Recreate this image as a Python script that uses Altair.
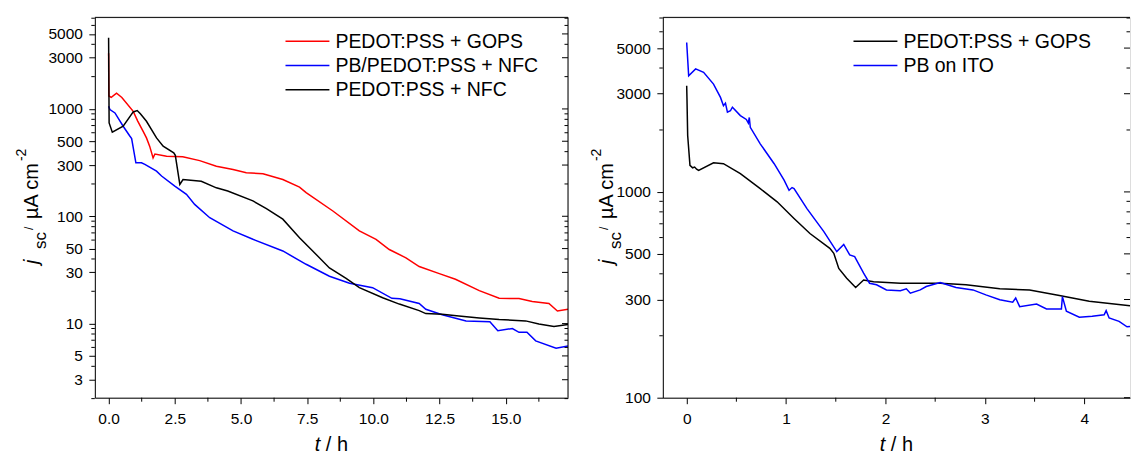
import altair as alt
import pandas as pd

FONT = "Liberation Sans"

# ---------------- left panel data ----------------
L_SERIES = ["PEDOT:PSS + GOPS", "PB/PEDOT:PSS + NFC", "PEDOT:PSS + NFC"]
L_COLORS = ["#ff0000", "#0000ff", "#000000"]

L_RED_T = [0.0, 0.01, 0.1, 0.3, 0.5, 0.93, 1.1, 1.3, 1.43, 1.55, 1.68, 1.75, 2.19, 2.8, 3.44, 4.07, 4.7, 5.2,
           5.83, 6.58, 7.21, 7.46, 8.47, 9.47, 10.1, 10.6, 11.23, 11.73, 12.49, 13.1, 14.0, 14.75, 15.5, 16.0,
           16.63, 16.95, 17.35]
L_RED_J = [3300, 1320, 1280, 1400, 1280, 950, 770, 620, 537, 450, 350, 380, 363, 358, 330, 293, 273, 254,
           249, 220, 187, 166, 112, 73, 61, 49, 41, 34, 29.2, 25.9, 20.3, 17.2, 17.1, 16.1,
           15.4, 13.1, 13.6]

L_BLUE_T = [0.0, 0.05, 0.24, 0.55, 0.8, 0.87, 1.03, 1.24, 1.37, 1.81, 2.0, 2.5, 2.94, 3.25, 3.82, 4.7, 5.45,
            6.58, 7.46, 8.34, 9.1, 9.97, 10.7, 11.0, 11.73, 11.98, 12.6, 13.5, 14.4, 14.7, 15.25, 15.5, 15.8,
            16.13, 16.9, 17.35]
L_BLUE_J = [1060, 987, 918, 690, 560, 530, 315, 315, 304, 263, 237, 191, 160, 129, 97, 73, 61,
            47.5, 35.7, 27.6, 23.8, 21.6, 17.2, 17.0, 15.4, 13.6, 12.1, 10.6, 10.4, 8.6, 9.0, 8.3, 8.3,
            6.9, 5.9, 6.2]

L_BLACK_T = [0.0, 0.02, 0.14, 0.55, 0.93, 1.08, 1.2, 1.43, 1.81, 2.06, 2.46, 2.52, 2.69, 2.81, 3.5, 4.07, 4.5,
             5.45, 5.96, 6.58, 7.21, 7.84, 8.34, 8.97, 9.47, 10.35, 10.98, 11.73, 11.98, 12.6, 13.23, 14.0,
             14.75, 15.75, 16.25, 16.82, 17.35]
L_BLACK_J = [4600, 740, 607, 690, 938, 966, 900, 768, 537, 450, 390, 370, 198, 220, 212, 184, 172,
             139, 118, 94, 63, 44, 33, 26.4, 21.6, 17.4, 15.2, 13.2, 12.4, 12.2, 11.8, 11.3,
             10.9, 10.6, 9.9, 9.4, 9.8]

L_X_DOMAIN = [-0.52, 17.35]
L_Y_DOMAIN = [2.04, 7130]
L_X_MAJOR = [0, 2.5, 5, 7.5, 10, 12.5, 15]
L_X_MINOR = [1.25, 3.75, 6.25, 8.75, 11.25, 13.75, 16.25]
L_Y_LABELED = [3, 5, 10, 30, 50, 100, 300, 500, 1000, 3000, 5000]
L_Y_MINOR = [2, 4, 6, 7, 8, 9, 20, 40, 60, 70, 80, 90, 200, 400, 600, 700, 800, 900, 2000, 4000, 6000, 7000]

# ---------------- right panel data ----------------
R_SERIES = ["PEDOT:PSS + GOPS", "PB on ITO"]
R_COLORS = ["#000000", "#0000ff"]

R_BLACK_T = [0.0, 0.003, 0.01, 0.033, 0.06, 0.08, 0.1, 0.12, 0.27, 0.37, 0.54, 0.74, 0.91, 1.08, 1.24, 1.44,
             1.48, 1.53, 1.61, 1.70, 1.78, 1.88, 2.15, 2.55, 2.81, 3.15, 3.45, 3.75, 4.05, 4.46]
R_BLACK_J = [3280, 2830, 1880, 1346, 1310, 1320, 1290, 1273, 1386, 1371, 1226, 1037, 895, 743, 628, 532,
             503, 425, 381, 343, 373, 366, 360, 360, 354, 338, 334, 314, 294, 280]

R_BLUE_T = [0.0, 0.02, 0.09, 0.17, 0.27, 0.34, 0.37, 0.39, 0.41, 0.44, 0.46, 0.54, 0.6, 0.62, 0.63, 0.64, 0.74,
            0.88, 0.98, 1.03, 1.06, 1.08, 1.21, 1.38, 1.51, 1.58, 1.64, 1.69, 1.78, 1.84, 1.91, 2.01, 2.15,
            2.21, 2.25, 2.35, 2.41, 2.55, 2.71, 2.88, 3.01, 3.15, 3.28, 3.31, 3.35, 3.52, 3.62, 3.77, 3.78,
            3.82, 3.95, 4.08, 4.2, 4.22, 4.25, 4.35, 4.43, 4.46]
R_BLUE_J = [5320, 3670, 3960, 3810, 3340, 2880, 2625, 2700, 2440, 2480, 2580, 2350, 2250, 2160, 2300, 2060, 1713,
            1371, 1140, 1019, 1050, 1038, 830, 641, 513, 556, 494, 485, 403, 360, 354, 334, 331,
            338, 322, 334, 347, 363, 343, 334, 316, 299, 291, 305, 277, 285, 270, 270, 310,
            263, 246, 249, 253, 265, 244, 235, 221, 222]

R_X_DOMAIN = [-0.24, 4.46]
R_Y_DOMAIN = [100, 7050]
R_X_MAJOR = [0, 1, 2, 3, 4]
R_X_MINOR = [0.5, 1.5, 2.5, 3.5]
R_Y_LABELED = [100, 300, 500, 1000, 3000, 5000]
R_Y_MINOR = [200, 400, 600, 700, 800, 900, 2000, 4000, 6000, 7000]


def make_df(series, ts, js):
    rows = []
    for name, t_arr, j_arr in zip(series, ts, js):
        for i, (t, j) in enumerate(zip(t_arr, j_arr)):
            rows.append({"series": name, "t": t, "j": j, "i": i})
    return pd.DataFrame(rows)


def one():
    return pd.DataFrame({"a": [0]})


def panel(df, series, colors, xdom, ydom, xmaj, xmin, xfmt, ylab, ymin, W, H, bx):
    xs = alt.Scale(domain=xdom, nice=False, zero=False)
    ys = alt.Scale(type="log", domain=ydom, nice=False)
    axis_common = dict(title=None, labelFont=FONT, labelFontSize=15.5, labelColor="#000",
                       tickColor="#000", tickWidth=1, tickSize=6, domainColor="#000",
                       domainWidth=1, grid=False, labelFlush=False, labelOverlap=False)
    xaxis = alt.Axis(values=xmaj, format=xfmt, labelPadding=7.5, **axis_common)
    yaxis = alt.Axis(values=ylab, format="d", labelPadding=6.5, **axis_common)
    lines = alt.Chart(df).mark_line(strokeWidth=1.5, clip=True).encode(
        x=alt.X("t:Q", scale=xs, axis=xaxis),
        y=alt.Y("j:Q", scale=ys, axis=yaxis),
        color=alt.Color("series:N", scale=alt.Scale(domain=series, range=colors), legend=None),
        order=alt.Order("i:Q"),
    )
    layers = [lines]
    # minor x ticks
    layers.append(alt.Chart(pd.DataFrame({"t": xmin})).mark_rule(color="#000", strokeWidth=1).encode(
        x=alt.X("t:Q", scale=xs, axis=xaxis), y=alt.value(H), y2=alt.value(H + 4)))
    # minor y ticks (left, outward)
    layers.append(alt.Chart(pd.DataFrame({"j": ymin})).mark_rule(color="#000", strokeWidth=1).encode(
        y=alt.Y("j:Q", scale=ys, axis=yaxis), x=alt.value(0), x2=alt.value(-3.5)))
    # right inward ticks
    layers.append(alt.Chart(pd.DataFrame({"j": ylab})).mark_rule(color="#000", strokeWidth=1).encode(
        y=alt.Y("j:Q", scale=ys, axis=yaxis), x=alt.value(W), x2=alt.value(W - 6)))
    layers.append(alt.Chart(pd.DataFrame({"j": ymin})).mark_rule(color="#000", strokeWidth=1).encode(
        y=alt.Y("j:Q", scale=ys, axis=yaxis), x=alt.value(W), x2=alt.value(W - 3.5)))
    # top border
    layers.append(alt.Chart(one()).mark_rule(color="#000", strokeWidth=1).encode(
        x=alt.value(0), x2=alt.value(W), y=alt.value(0)))
    # legend
    for k, (name, col) in enumerate(zip(series, colors)):
        yc = 24 + k * 24.2
        layers.append(alt.Chart(one()).mark_rule(color=col, strokeWidth=1.5).encode(
            x=alt.value(191), x2=alt.value(235), y=alt.value(yc)))
        layers.append(alt.Chart(one()).mark_text(
            text=name, font=FONT, fontSize=19.5, align="left", baseline="alphabetic", color="#000").encode(
            x=alt.value(241), y=alt.value(yc + 6.8)))
    # x title: t / h
    cx = W / 2
    layers.append(alt.Chart(one()).mark_text(
        text="t", font=FONT, fontSize=20, fontStyle="italic", align="left", baseline="alphabetic",
        color="#000").encode(x=alt.value(cx - 16.7), y=alt.value(H + 53.5)))
    layers.append(alt.Chart(one()).mark_text(
        text="/ h", font=FONT, fontSize=20, align="left", baseline="alphabetic",
        color="#000").encode(x=alt.value(cx - 5.6), y=alt.value(H + 53.5)))
    # y title: j_sc / µA cm^-2
    parts = [
        ("j", 20, "italic", bx, 247),
        ("sc", 17, "normal", bx + 8, 232),
        ("/", 12, "normal", bx - 5, 213),
        ("µA cm", 20, "normal", bx, 202),
        ("-2", 14, "normal", bx - 12, 144),
    ]
    for txt, fs, style, px, py in parts:
        layers.append(alt.Chart(one()).mark_text(
            text=txt, font=FONT, fontSize=fs, fontStyle=style, angle=270, align="left",
            baseline="alphabetic", color="#000").encode(x=alt.value(px), y=alt.value(py)))
    return alt.layer(*layers).properties(width=W, height=H)


left_df = make_df(L_SERIES, [L_RED_T, L_BLUE_T, L_BLACK_T], [L_RED_J, L_BLUE_J, L_BLACK_J])
right_df = make_df(R_SERIES, [R_BLACK_T, R_BLUE_T], [R_BLACK_J, R_BLUE_J])

left = panel(left_df, L_SERIES, L_COLORS, L_X_DOMAIN, L_Y_DOMAIN, L_X_MAJOR, L_X_MINOR, ".1f",
             L_Y_LABELED, L_Y_MINOR, 474, 381, -56.5)
# right border for the left panel
left = alt.layer(left, alt.Chart(one()).mark_rule(color="#000", strokeWidth=1).encode(
    x=alt.value(474), y=alt.value(0), y2=alt.value(381)))

right = panel(right_df, R_SERIES, R_COLORS, R_X_DOMAIN, R_Y_DOMAIN, R_X_MAJOR, R_X_MINOR, "d",
              R_Y_LABELED, R_Y_MINOR, 468, 381, -50)

chart = alt.hconcat(left, right, spacing=20).resolve_scale(color="independent").properties(
    padding={"left": 15, "top": 16, "right": 0, "bottom": 0}
).configure_view(stroke=None).configure(background="white")

chart.save("out.html", embed_options={"renderer": "svg", "actions": False})
